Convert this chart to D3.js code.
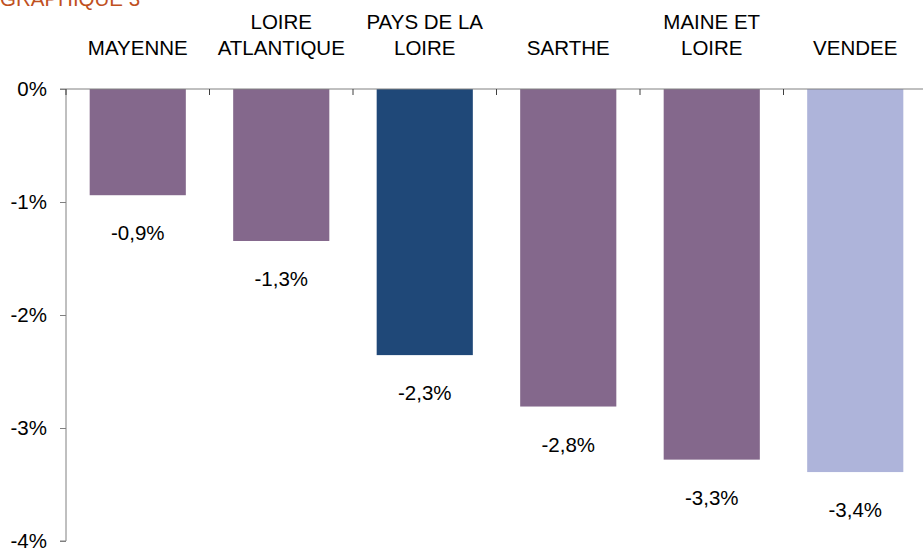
<!DOCTYPE html>
<html>
<head>
<meta charset="utf-8">
<script src="https://cdn.jsdelivr.net/npm/d3@7"></script>
<style>
  body { margin: 0; background: #fff; }
  svg { display: block; font-family: "Liberation Sans", Arial, sans-serif; }
</style>
</head>
<body>
<div id="chart"></div>
<script>
const categories = ["MAYENNE", "LOIRE ATLANTIQUE", "PAYS DE LA LOIRE", "SARTHE", "MAINE ET LOIRE", "VENDEE"];
// header labels as broken over lines above the bars
const categoryLines = [["MAYENNE"], ["LOIRE", "ATLANTIQUE"], ["PAYS DE LA", "LOIRE"], ["SARTHE"], ["MAINE ET", "LOIRE"], ["VENDEE"]];
const values = [-0.94, -1.345, -2.355, -2.81, -3.28, -3.39];
const valueLabels = ["-0,9%", "-1,3%", "-2,3%", "-2,8%", "-3,3%", "-3,4%"];
const barColors = ["#84688C", "#84688C", "#1F4878", "#84688C", "#84688C", "#AEB4DA"];
const yTicks = [0, -1, -2, -3, -4];
const yTickLabels = ["0%", "-1%", "-2%", "-3%", "-4%"];

const width = 923;
const height = 548;
const margin = { top: 89, left: 66 };
const fontSize = "20.5px";

const svg = d3.select("#chart")
    .append("svg")
    .attr("width", width)
    .attr("height", height);

// Title (cut off at the top in the source)
svg.append("text")
    .attr("x", 0)
    .attr("y", 6)
    .style("font-size", fontSize)
    .style("fill", "#C0501E")
    .text("GRAPHIQUE 3");

const xScale = d3.scaleBand()
    .domain(categories)
    .range([margin.left, margin.left + 6 * 143.5])
    .paddingInner(0.33)
    .paddingOuter(0.165);

const yScale = d3.scaleLinear()
    .domain([0, -4])
    .range([margin.top, margin.top + 452]);

// Bars
svg.selectAll("rect.bar")
    .data(categories)
    .enter()
    .append("rect")
    .attr("class", "bar")
    .attr("x", d => xScale(d))
    .attr("y", yScale(0))
    .attr("width", xScale.bandwidth())
    .attr("height", (d, i) => yScale(values[i]) - yScale(0))
    .attr("fill", (d, i) => barColors[i]);

// Y axis
const yAxis = svg.append("g")
    .attr("transform", `translate(${margin.left}, 0)`)
    .call(d3.axisLeft(yScale).tickValues(yTicks).tickFormat((d, i) => yTickLabels[i]).tickSize(6).tickPadding(13));
yAxis.select(".domain").attr("stroke", "#808080").attr("d", `M-6,${yScale(0)}H0V${yScale(-4)}H-6`);
yAxis.selectAll(".tick line").attr("stroke", "#808080");
yAxis.selectAll("text")
    .style("font-size", fontSize)
    .style("fill", "#000")
    .style("font-family", "Liberation Sans, Arial, sans-serif");

// X axis line along 0% with ticks between categories
const step = xScale.step();
svg.append("line")
    .attr("x1", margin.left)
    .attr("x2", width)
    .attr("y1", yScale(0))
    .attr("y2", yScale(0))
    .attr("stroke", "#808080");
d3.range(categories.length + 1).forEach(i => {
    const x = margin.left + i * step;
    svg.append("line")
        .attr("x1", x)
        .attr("x2", x)
        .attr("y1", yScale(0))
        .attr("y2", yScale(0) + 6)
        .attr("stroke", "#404040");
});

// Category headers
categoryLines.forEach((lines, i) => {
    const cx = xScale(categories[i]) + xScale.bandwidth() / 2;
    lines.forEach((line, j) => {
        svg.append("text")
            .attr("x", cx)
            .attr("y", 55 - (lines.length - 1 - j) * 26)
            .attr("text-anchor", "middle")
            .style("font-size", fontSize)
            .style("fill", "#000")
            .text(line);
    });
});

// Value labels under bars
svg.selectAll("text.value")
    .data(categories)
    .enter()
    .append("text")
    .attr("class", "value")
    .attr("x", d => xScale(d) + xScale.bandwidth() / 2)
    .attr("y", (d, i) => yScale(values[i]) + 45)
    .attr("text-anchor", "middle")
    .style("font-size", fontSize)
    .style("fill", "#000")
    .text((d, i) => valueLabels[i]);
</script>
</body>
</html>
